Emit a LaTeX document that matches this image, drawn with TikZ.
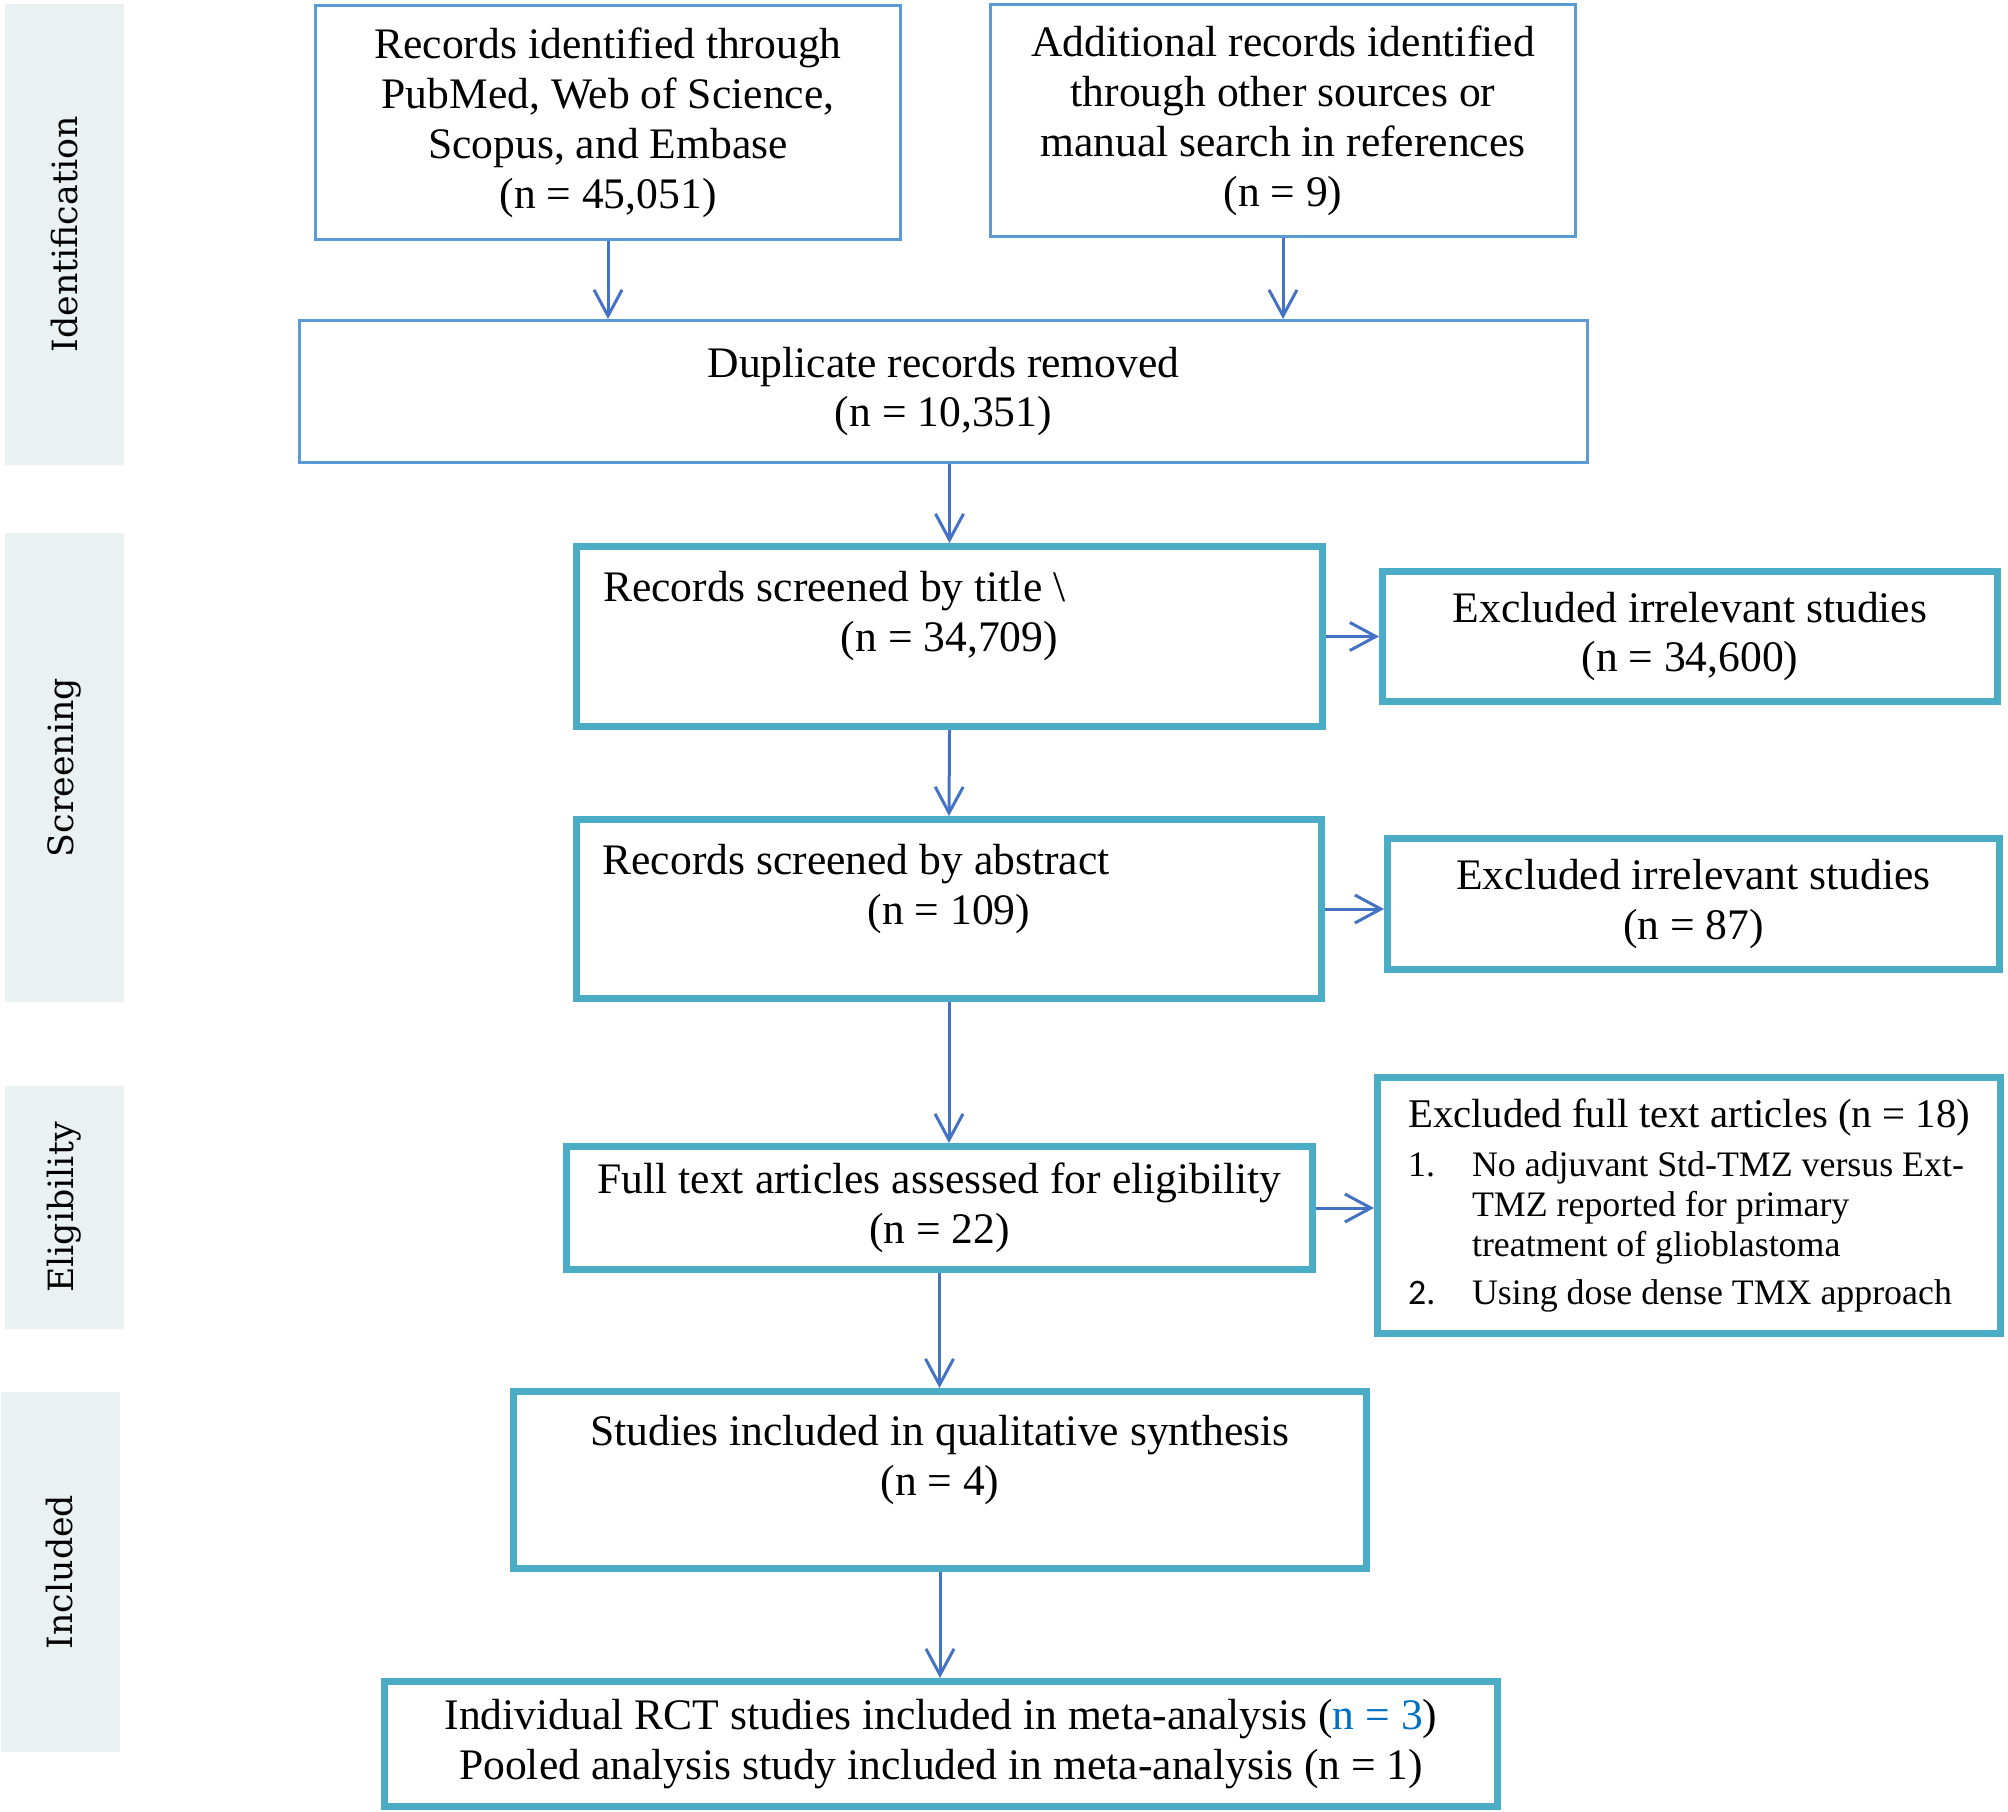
\documentclass[tikz,border=0pt]{standalone}
\usepackage{fontspec}
\setmainfont{Liberation Serif}
\newfontfamily\bandfont{DejaVu Serif}
\newfontfamily\calfont{Carlito}
\usetikzlibrary{arrows.meta}
\definecolor{thinblue}{HTML}{5B9BD5}
\definecolor{tealline}{HTML}{4BACC6}
\definecolor{arrowblue}{HTML}{4472C4}
\definecolor{bandfill}{HTML}{E9F1F3}
\definecolor{nblue}{HTML}{0070C0}
\newcommand\boxfont{\fontsize{12.4pt}{14.2pt}\selectfont}
\newcommand\listfont{\fontsize{10.2pt}{11.4pt}\selectfont}
\tikzset{
  thinbox/.style={draw=thinblue, line width=0.3mm, inner sep=0pt, align=center, font=\boxfont},
  tealbox/.style={draw=tealline, line width=0.7mm, inner sep=0pt, align=center, font=\boxfont},
  band/.style={fill=bandfill, rotate=90, inner sep=0pt, minimum height=11.9mm, font={\bandfont\fontsize{9.9pt}{11pt}\selectfont}},
  flow/.style={draw=arrowblue, line width=0.3mm, -{Straight Barb[length=2.6mm,width=2.8mm]}}
}
\begin{document}
\begin{tikzpicture}[x=0.1mm,y=-0.1mm]
      \useasboundingbox (0,0) rectangle (2008,1812);
      \node[band, minimum width=46.1mm] (bandI) at (64.5,234.5) {Identification};
      \node[band, minimum width=46.9mm] (bandS) at (64.5,767.5) {Screening};
      \node[band, minimum width=24.3mm] (bandE) at (64.5,1207.5) {Eligibility};
      \node[band, minimum width=36.0mm] (bandN) at (60,1572) {Included};
      \node[thinbox, minimum width=58.5mm, minimum height=23.4mm] (idA) at (608,122.5)
        {Records identified through\\PubMed, Web of Science,\\Scopus, and Embase\\(n = 45,051)};
      \node[thinbox, minimum width=58.5mm, minimum height=23.2mm] (idB) at (1283,120.5)
        {Additional records identified\\through other sources or\\manual search in references\\(n = 9)};
      \node[thinbox, minimum width=128.8mm, minimum height=14.2mm] (dup) at (943.5,391.5)
        {Duplicate records removed\\(n = 10,351)};
      \node[tealbox, minimum width=74.6mm, minimum height=18mm] (title) at (949.5,636.5)
        {\makebox[69.3mm][l]{Records screened by title \textbackslash}\\(n = 34,709)\\\mbox{}};
      \node[tealbox, minimum width=74.5mm, minimum height=17.9mm] (abs) at (949,909)
        {\makebox[69.3mm][l]{Records screened by abstract}\\(n = 109)\\\mbox{}};
      \node[tealbox, minimum width=61.5mm, minimum height=13mm] (exA) at (1690,636.5)
        {Excluded irrelevant studies\\(n = 34,600)};
      \node[tealbox, minimum width=61.2mm, minimum height=13.1mm] (exB) at (1693.5,904)
        {Excluded irrelevant studies\\(n = 87)};
      \node[tealbox, minimum width=74.6mm, minimum height=12.3mm] (full) at (939.5,1208)
        {Full text articles assessed for eligibility\\(n = 22)};
      \node[tealbox, minimum width=62.3mm, minimum height=25.6mm, align=left, font=\listfont] (exC) at (1689,1205.5)
        {{\fontsize{11.6pt}{13.4pt}\selectfont Excluded full text articles (n = 18)}\\[2.5pt]
         \makebox[6.4mm][l]{1.}No adjuvant Std-TMZ versus Ext-\\
         \hspace*{6.4mm}TMZ reported for primary\\
         \hspace*{6.4mm}treatment of glioblastoma\\[2.3pt]
         \makebox[6.4mm][l]{\calfont 2.}Using dose dense TMX approach};
      \node[tealbox, minimum width=85.3mm, minimum height=17.7mm] (qual) at (940,1480)
        {Studies included in qualitative synthesis\\(n = 4)\\\mbox{}};
      \node[tealbox, minimum width=111.3mm, minimum height=12.5mm] (meta) at (941,1744)
        {Individual RCT studies included in meta-analysis (\textcolor{nblue}{n = 3})\\
         Pooled analysis study included in meta-analysis (n = 1)};
      \draw[flow] (idA.south) to (idA.south |- dup.north);
      \draw[flow] (idB.south) to (idB.south |- dup.north);
      \draw[flow] (title.north |- dup.south) to (title.north);
      \draw[flow] (title.south) to (abs.north);
      \draw[flow] (abs.south) to (abs.south |- full.north);
      \draw[flow] (full.south) to (full.south |- qual.north);
      \draw[flow] (qual.south) to (qual.south |- meta.north);
      \draw[flow] (title.east) to (title.east -| exA.west);
      \draw[flow] (abs.east) to (abs.east -| exB.west);
      \draw[flow] (full.east) to (full.east -| exC.west);
    \end{tikzpicture}
\end{document}
